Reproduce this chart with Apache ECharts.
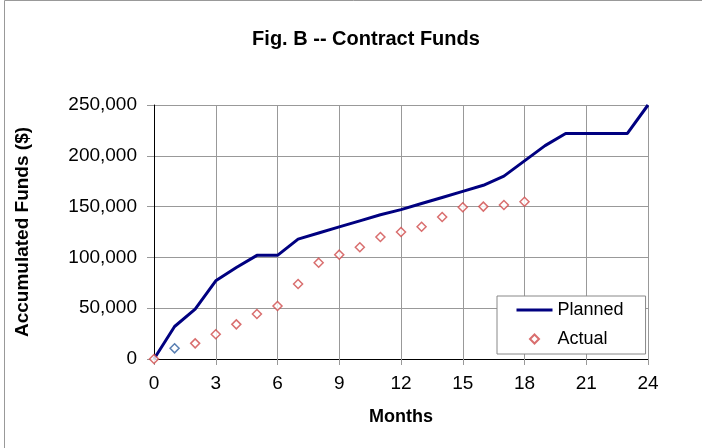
<!DOCTYPE html>
<html>
<head>
<meta charset="utf-8">
<script src="https://cdn.jsdelivr.net/npm/echarts@6/dist/echarts.min.js"></script>
<style>
  html, body { margin: 0; padding: 0; background: #fff; }
  #chart { width: 702px; height: 448px; }
</style>
</head>
<body>
<div id="chart"></div>
<script>
// months on the x axis
const months = [0, 1, 2, 3, 4, 5, 6, 7, 8, 9, 10, 11, 12, 13, 14, 15, 16, 17, 18, 19, 20, 21, 22, 23, 24]
const planned = [0, 32000, 49000, 77000, 90000, 102000, 102000, 118000, 124000, 130000, 136000, 142000, 147000,
  153000, 159000, 165000, 171000, 180000, 195000, 210000, 222000, 222000, 222000, 222000, 250000]
const actualMonths = [0, 1, 2, 3, 4, 5, 6, 7, 8, 9, 10, 11, 12, 13, 14, 15, 16, 17, 18]
const actual = [0, 10500, 15400, 24300, 34100, 44300, 52200, 73800, 94800, 102700, 110000, 120100, 125000,
  130200, 139800, 149300, 150000, 151600, 154800]
// the month-1 point is drawn blue in the original
const highlightMonth = 1

const chart = echarts.init(document.getElementById('chart'))

const font = 'Liberation Sans, Arial, sans-serif'

// diamond with invisible end points so it keeps its shape in a 36px wide legend slot
const legendDiamond = 'path://M0,5 L0,5 M36,5 L36,5 M18,0.5 L22.5,5 L18,9.5 L13.5,5 Z'

chart.setOption({
  animation: false,
  backgroundColor: '#fff',
  title: {
    text: 'Fig. B -- Contract Funds',
    left: 361,
    textAlign: 'center',
    top: 24,
    textStyle: { fontFamily: font, fontSize: 20, fontWeight: 'bold', color: '#000' },
  },
  graphic: [{
    type: 'rect',
    shape: { x: 4.5, y: 0.5, width: 800, height: 800 },
    style: { fill: 'none', stroke: '#999', lineWidth: 1 },
    silent: true,
  }],
  legend: {
    orient: 'vertical',
    left: 497,
    top: 296,
    padding: [5, 22, 6, 18],
    itemWidth: 36,
    itemHeight: 10,
    itemGap: 11,
    borderColor: '#888',
    borderWidth: 1,
    backgroundColor: '#fff',
    lineStyle: { width: 3 },
    textStyle: { fontFamily: font, fontSize: 18, color: '#000' },
    data: [
      { name: 'Planned', itemStyle: { opacity: 0 } },
      { name: 'Actual', icon: legendDiamond },
    ],
  },
  grid: { left: 154, right: 54, top: 105, bottom: 89 },
  xAxis: {
    type: 'value',
    min: 0,
    max: 24,
    interval: 3,
    name: 'Months',
    nameLocation: 'middle',
    nameGap: 49,
    nameTextStyle: { fontFamily: font, fontSize: 18, fontWeight: 'bold', color: '#000' },
    axisLine: { onZero: false, lineStyle: { color: '#000', width: 1 } },
    axisTick: { show: true, length: 6, lineStyle: { color: '#999' } },
    axisLabel: { fontFamily: font, fontSize: 19, color: '#000', margin: 15 },
    splitLine: { show: true, lineStyle: { color: '#999', width: 1 } },
  },
  yAxis: {
    type: 'value',
    min: 0,
    max: 250000,
    interval: 50000,
    name: 'Accumulated Funds ($)',
    nameLocation: 'middle',
    nameGap: 122,
    nameTextStyle: { fontFamily: font, fontSize: 19, fontWeight: 'bold', color: '#000' },
    axisLine: { show: true, lineStyle: { color: '#000', width: 1 } },
    axisTick: { show: true, length: 7, lineStyle: { color: '#999' } },
    axisLabel: {
      fontFamily: font, fontSize: 19, color: '#000', margin: 17,
      formatter: v => v.toLocaleString('en-US'),
    },
    splitLine: { show: true, lineStyle: { color: '#999', width: 1 } },
  },
  series: [
    {
      name: 'Planned',
      type: 'line',
      symbol: 'none',
      z: 2,
      lineStyle: { color: '#000080', width: 3 },
      itemStyle: { color: '#000080' },
      data: months.map((m, i) => [m, planned[i]]),
    },
    {
      name: 'Actual',
      type: 'scatter',
      symbol: 'diamond',
      symbolSize: 9,
      z: 3,
      itemStyle: { color: '#fff', borderColor: '#d04a4a', borderWidth: 1.5 },
      data: actualMonths.map((m, i) => {
        const p = { value: [m, actual[i]] }
        if (m === highlightMonth) p.itemStyle = { borderColor: '#2f5f9f' }
        return p
      }),
    },
  ],
})
</script>
</body>
</html>
